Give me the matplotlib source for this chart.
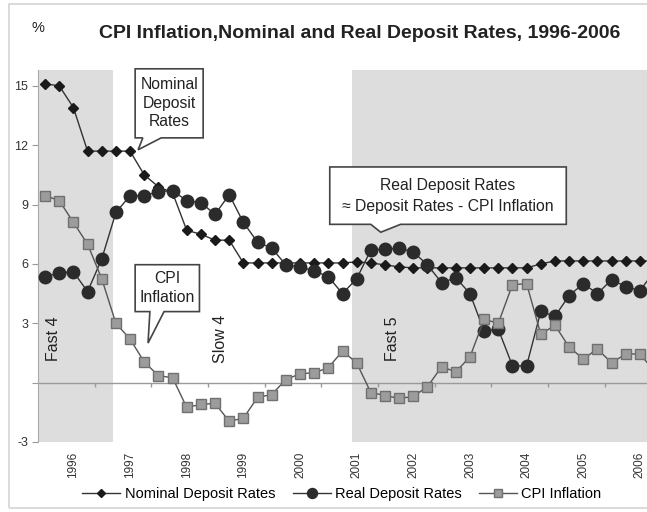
import numpy as np
import matplotlib
matplotlib.use("Agg")
import matplotlib.pyplot as plt
from matplotlib.patches import Polygon, Rectangle

plt.rcParams["font.family"] = ["Liberation Sans", "DejaVu Sans"]

nominal = [15.1, 15.0, 13.9, 11.7, 11.7, 11.7, 11.7, 10.5, 9.9, 9.6,
           7.7, 7.5, 7.2, 7.2, 6.05, 6.05, 6.05, 6.05, 6.05, 6.05,
           6.05, 6.05, 6.1, 6.05, 5.95, 5.85, 5.8, 5.8, 5.8, 5.8,
           5.8, 5.8, 5.8, 5.8, 5.8, 6.0, 6.15, 6.15, 6.15, 6.15,
           6.15, 6.15, 6.15, 6.15]
real = [5.35, 5.55, 5.6, 4.6, 6.25, 8.6, 9.45, 9.45, 9.65, 9.7,
        9.2, 9.1, 8.5, 9.5, 8.1, 7.1, 6.8, 5.95, 5.85, 5.65,
        5.35, 4.5, 5.25, 6.7, 6.75, 6.8, 6.6, 5.95, 5.05, 5.3,
        4.5, 2.6, 2.7, 0.85, 0.85, 3.6, 3.35, 4.4, 5.0, 4.5,
        5.2, 4.85, 4.65, 5.6]
cpi = [9.45, 9.2, 8.1, 7.0, 5.25, 3.0, 2.2, 1.05, 0.35, 0.25,
       -1.25, -1.1, -1.05, -1.95, -1.8, -0.75, -0.6, 0.15, 0.45, 0.5,
       0.75, 1.6, 1.0, -0.5, -0.65, -0.8, -0.7, -0.2, 0.8, 0.55,
       1.3, 3.2, 3.0, 4.95, 5.0, 2.45, 2.9, 1.8, 1.2, 1.7,
       1.0, 1.45, 1.45, 0.6]
years = ["1996", "1997", "1998", "1999", "2000", "2001",
         "2002", "2003", "2004", "2005", "2006"]

x = np.arange(len(nominal))

fig = plt.figure(figsize=(6.47, 5.12), dpi=100)
ax = fig.add_axes([38 / 647, 1 - 442 / 512, 1 - 38 / 647, (442 - 70) / 512])

# outer frame of the chart
fig.patches.append(Rectangle((9 / 647, 4 / 512), 1.2, 504 / 512, transform=fig.transFigure,
                             fill=False, ec="#d4d4d4", lw=1.2))

# shaded phases
ax.axvspan(-0.5, 4.8, color="#dddddd", lw=0, zorder=0)
ax.axvspan(21.7, 45, color="#dddddd", lw=0, zorder=0)
ax.axhline(0, color="#9a9a9a", lw=1, zorder=1)
ax.vlines(np.arange(3.5, 43, 4), -0.22, 0, color="#9a9a9a", lw=1, zorder=1)

ax.plot(x, nominal, color="#333333", lw=1, marker="D", ms=5, mfc="#1a1a1a", mec="#1a1a1a",
        zorder=3, label="Nominal Deposit Rates")
ax.plot(x, real, color="#333333", lw=1, marker="o", ms=9, mfc="#2b2b2b", mec="#2b2b2b",
        zorder=4, label="Real Deposit Rates")
ax.plot(x, cpi, color="#555555", lw=1, marker="s", ms=7, mfc="#9c9c9c", mec="#707070",
        zorder=5, label="CPI Inflation")

ax.set_xlim(-0.5, 42.5)
ax.set_ylim(-3, 15.8)
ax.set_yticks([-3, 0, 3, 6, 9, 12, 15])
ax.set_yticklabels(["-3", "", "3", "6", "9", "12", "15"], fontsize=9, color="#333333")
ax.tick_params(axis="y", length=4, color="#999999", pad=3)
ax.set_xticks(np.arange(2, 43, 4))
ax.set_xticklabels(years, rotation=90, fontsize=8.5, color="#333333")
ax.tick_params(axis="x", length=0, pad=7)
for s in ["top", "right", "bottom"]:
    ax.spines[s].set_visible(False)
ax.spines["left"].set_color("#aaaaaa")
ax.set_facecolor("none")

# phase labels
for xp, lab in [(0.6, "Fast 4"), (12.4, "Slow 4"), (24.5, "Fast 5")]:
    ax.text(xp, 2.2, lab, rotation=90, ha="center", va="center", fontsize=11.5, color="#222222")


def callout(x0, x1, y0, y1, bx0, bx1, tip, text, ls):
    verts = [(x0, y0), (bx0, y0), tip, (bx1, y0), (x1, y0), (x1, y1), (x0, y1)]
    ax.add_patch(Polygon(verts, closed=True, fc="white", ec="#444444", lw=1.2,
                         clip_on=False, zorder=8))
    ax.text((x0 + x1) / 2, (y0 + y1) / 2, text, ha="center", va="center", fontsize=11.3,
            linespacing=ls, color="#222222", zorder=9)


callout(6.36, 11.16, 12.37, 15.86, 6.9, 8.2, (6.57, 11.77), "Nominal\nDeposit\nRates", 1.3)
callout(6.36, 10.9, 3.59, 5.96, 7.4, 8.4, (7.27, 2.0), "CPI\nInflation", 1.35)
callout(20.1, 36.8, 8.0, 10.9, 23.0, 25.1, (23.7, 7.6),
        "Real Deposit Rates\n\u2248 Deposit Rates - CPI Inflation", 1.5)

fig.text(360 / 647, 1 - 33 / 512, "CPI Inflation,Nominal and Real Deposit Rates, 1996-2006",
         ha="center", va="center", fontsize=14, fontweight="bold", color="#222222")
fig.text(38 / 647, 1 - 28 / 512, "%", ha="center", va="center", fontsize=10.5, color="#222222")

fig.legend(loc="center", bbox_to_anchor=(342 / 647, 1 - 494 / 512), ncol=3, frameon=False,
           fontsize=10.5, handlelength=2.6, columnspacing=1.2, handletextpad=0.3,
           markerscale=0.8)

fig.savefig("out.png", dpi=100)
